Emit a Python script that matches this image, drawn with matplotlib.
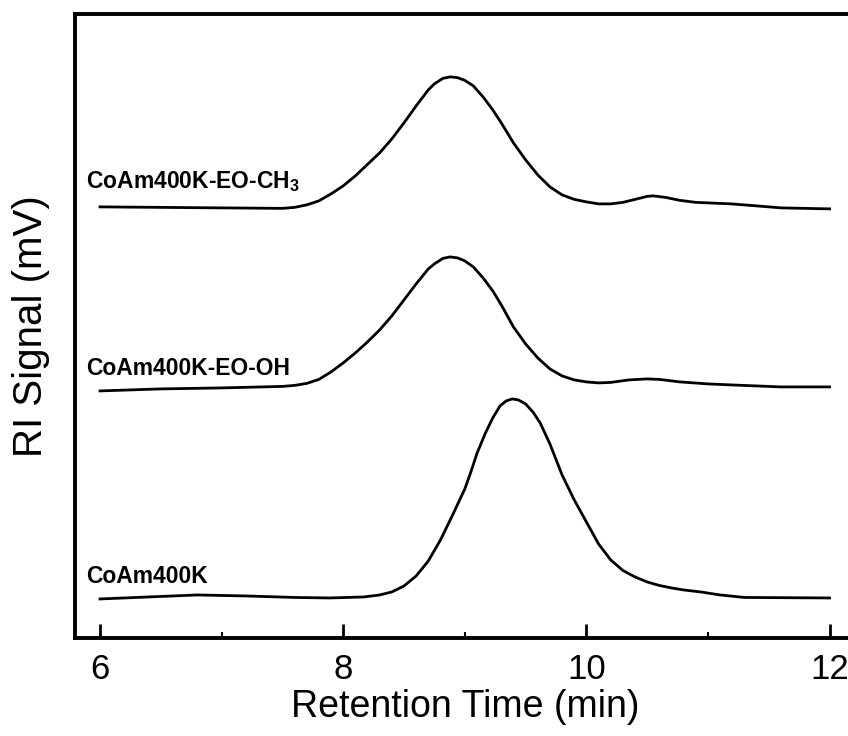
import matplotlib
matplotlib.use('Agg')
import matplotlib.pyplot as plt
from matplotlib.ticker import MultipleLocator

plt.rcParams['font.family'] = ['Liberation Sans', 'DejaVu Sans']
plt.rcParams['mathtext.fontset'] = 'custom'
plt.rcParams['mathtext.rm'] = 'Liberation Sans'
plt.rcParams['mathtext.bf'] = 'Liberation Sans:bold'

# --- data (retention time in min, RI signal in mV, stacked) ---
t_ch3 = [6.0, 6.5, 7.0, 7.5, 7.6, 7.7, 7.8, 7.9, 8.0, 8.1, 8.2, 8.3, 8.4, 8.5, 8.6, 8.7,
         8.75, 8.82, 8.88, 8.94, 9.0, 9.07, 9.15, 9.23, 9.3, 9.4, 9.5, 9.6, 9.7, 9.8, 9.9,
         10.0, 10.1, 10.2, 10.3, 10.4, 10.5, 10.55, 10.65, 10.77, 10.9, 11.0, 11.19, 11.4,
         11.6, 12.0]
s_ch3 = [43.3, 43.25, 43.2, 43.15, 43.25, 43.5, 43.9, 44.6, 45.4, 46.4, 47.55, 48.7, 50.1,
         51.7, 53.4, 55.0, 55.6, 56.15, 56.3, 56.22, 55.95, 55.4, 54.3, 53.0, 51.7, 49.7,
         48.0, 46.5, 45.3, 44.5, 44.05, 43.8, 43.6, 43.6, 43.75, 44.05, 44.35, 44.4, 44.25,
         43.95, 43.75, 43.7, 43.6, 43.4, 43.2, 43.1]

t_oh = [6.0, 6.5, 7.0, 7.5, 7.6, 7.7, 7.8, 7.9, 8.0, 8.1, 8.2, 8.3, 8.4, 8.5, 8.6, 8.7,
        8.75, 8.82, 8.88, 8.94, 9.0, 9.07, 9.15, 9.23, 9.3, 9.4, 9.5, 9.6, 9.7, 9.8, 9.9,
        10.0, 10.1, 10.2, 10.35, 10.5, 10.6, 10.77, 11.0, 11.19, 11.6, 12.0]
s_oh = [24.9, 25.1, 25.2, 25.35, 25.45, 25.65, 26.05, 26.8, 27.7, 28.7, 29.8, 31.0, 32.4,
        34.0, 35.6, 37.1, 37.6, 38.15, 38.3, 38.2, 37.9, 37.3, 36.2, 34.9, 33.5, 31.3,
        29.6, 28.2, 27.1, 26.4, 26.0, 25.8, 25.7, 25.75, 26.0, 26.1, 26.05, 25.8, 25.6,
        25.5, 25.3, 25.3]

t_base = [6.0, 6.4, 6.8, 7.2, 7.6, 7.89, 8.17, 8.3, 8.4, 8.5, 8.6, 8.7, 8.8, 8.9, 8.95, 9.0,
          9.05, 9.1, 9.17, 9.23, 9.29, 9.34, 9.39, 9.44, 9.5, 9.56, 9.62, 9.7, 9.8, 9.9,
          10.0, 10.1, 10.2, 10.3, 10.4, 10.5, 10.6, 10.7, 10.8, 10.94, 11.1, 11.3, 12.0]
s_base = [4.1, 4.3, 4.5, 4.4, 4.25, 4.2, 4.3, 4.5, 4.8, 5.4, 6.4, 7.9, 10.0, 12.5, 13.8, 15.1,
          16.8, 18.65, 20.7, 22.2, 23.4, 23.9, 24.1, 24.0, 23.6, 22.8, 21.7, 19.6, 16.5, 14.0,
          11.8, 9.6, 8.0, 6.95, 6.3, 5.8, 5.45, 5.2, 5.0, 4.8, 4.5, 4.25, 4.2]

names = ['CoAm400K-EO-CH$_\\mathbf{3}$', 'CoAm400K-EO-OH', 'CoAm400K']
label_y = [45.2, 26.5, 5.7]

fig = plt.figure(figsize=(8.48, 7.36), dpi=100)
# right spine sits just outside the picture, as in the original
ax = fig.add_axes([0.0884, 0.1332, 0.92, 0.848])

for t, s in [(t_ch3, s_ch3), (t_oh, s_oh), (t_base, s_base)]:
    ax.plot(t, s, color='black', lw=2.0, solid_joinstyle='round')

for name, y in zip(names, label_y):
    ax.text(5.885, y, name, fontsize=16.5, fontweight='bold', va='baseline', ha='left')

ax.set_xlim(5.794, 12.21)
ax.set_ylim(0.2, 62.6)
ax.xaxis.set_major_locator(MultipleLocator(2))
ax.xaxis.set_minor_locator(MultipleLocator(1))
ax.tick_params(axis='x', which='major', direction='in', length=10, width=2, labelsize=25, pad=11)
ax.tick_params(axis='x', which='minor', direction='in', length=4, width=1.5)
ax.tick_params(axis='y', which='both', left=False, labelleft=False)
for sp in ax.spines.values():
    sp.set_linewidth(2.8)

ax.set_xlabel('Retention Time (min)', fontsize=27, labelpad=2)
ax.set_ylabel('RI Signal (mV)', fontsize=29, labelpad=18)

fig.savefig('out.png', dpi=100)
